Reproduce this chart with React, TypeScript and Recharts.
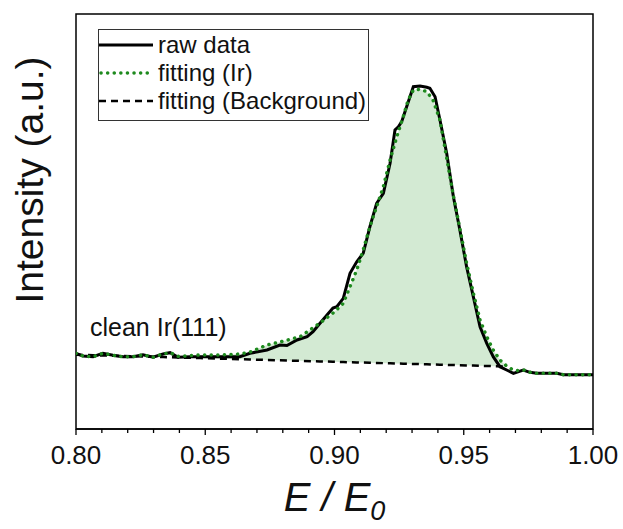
import { ComposedChart, Line, Area, XAxis, YAxis, ReferenceArea, Label } from 'recharts';

// raw spectrum (E/E0, intensity in a.u.)
const rawE = [
  0.8, 0.8027, 0.8066, 0.8104, 0.8143, 0.8182, 0.8221, 0.8259, 0.8298, 0.8337, 0.8364, 0.8395, 0.8441,
  0.8507, 0.8557, 0.8634, 0.8673, 0.8739, 0.8789, 0.8816, 0.8855, 0.8894, 0.8917, 0.8944, 0.8971, 0.8994,
  0.9009, 0.9034, 0.906, 0.9086, 0.9111, 0.9137, 0.9163, 0.9189, 0.9215, 0.9234, 0.9247, 0.926, 0.9279,
  0.9305, 0.9331, 0.9357, 0.9369, 0.9389, 0.9408, 0.9434, 0.946, 0.9485, 0.9511, 0.9537, 0.9563, 0.9589,
  0.9614, 0.964, 0.9666, 0.9692, 0.973, 0.9756, 0.9782, 0.986, 0.9885, 1.0,
];
const rawI = [
  18.24, 17.59, 17.42, 18.24, 17.76, 17.42, 17.42, 17.9, 17.28, 18.07, 18.39, 17.28, 17.42,
  17.42, 17.42, 17.42, 18.24, 19.04, 20.24, 20.12, 21.45, 22.24, 23.45, 25.47, 27.47, 29.16,
  29.47, 31.49, 37.52, 40.31, 42.34, 48.75, 54.39, 56.8, 64.02, 72.05, 72.84, 74.05, 77.66,
  82.48, 82.65, 82.34, 82.1, 80.07, 74.46, 66.43, 55.98, 47.95, 39.11, 31.88, 24.65, 20.65,
  17.42, 15.01, 14.22, 13.42, 14.22, 13.66, 13.42, 13.42, 13.08, 13.08,
];

// fit: Ir peak + background, and the background alone
const fitE = [
  0.8, 0.8027, 0.8066, 0.8104, 0.8143, 0.8182, 0.8221, 0.8259, 0.8298, 0.8337, 0.8364, 0.8395, 0.8441,
  0.848, 0.8557, 0.8634, 0.8673, 0.8739, 0.8789, 0.8867, 0.8944, 0.8994, 0.9021, 0.9034, 0.906, 0.9086,
  0.9111, 0.9137, 0.9163, 0.9189, 0.9215, 0.9241, 0.9266, 0.9285, 0.9305, 0.9331, 0.9357, 0.9381, 0.9408,
  0.9458, 0.9511, 0.9537, 0.9563, 0.9589, 0.9614, 0.964, 0.9666, 0.9691, 0.9718, 0.9737, 0.9756, 0.9782,
  0.986, 0.9885, 1.0,
];
const fitIr = [
  18.24, 17.59, 17.42, 18.24, 17.76, 17.42, 17.42, 17.9, 17.28, 18.07, 18.39, 17.5, 17.7,
  17.83, 17.83, 18.07, 18.55, 20.24, 20.96, 22.24, 25.54, 27.95, 29.47, 30.29, 34.29, 38.31,
  43.13, 48.75, 53.57, 58.39, 64.82, 70.43, 75.25, 79.28, 81.69, 81.86, 81.28, 79.28, 74.46,
  56.87, 40.0, 32.77, 26.27, 22.24, 19.04, 16.63, 15.18, 14.22, 14.05, 14.22, 13.66, 13.42,
  13.42, 13.08, 13.08,
];
const fitBg = [
  17.9, 17.85, 17.79, 17.72, 17.66, 17.59, 17.52, 17.46, 17.39, 17.32, 17.28, 17.23, 17.15,
  17.08, 16.95, 16.82, 16.75, 16.64, 16.55, 16.42, 16.29, 16.2, 16.16, 16.14, 16.09, 16.05,
  16.01, 15.96, 15.92, 15.87, 15.83, 15.78, 15.74, 15.71, 15.67, 15.63, 15.58, 15.54, 15.5,
  15.41, 15.32, 15.28, 15.23, 15.19, 15.15, 15.1, 15.06, null, null, null, null, null,
  null, null, null,
];

const majorTicks = [0.8, 0.85, 0.9, 0.95, 1.0];
const tickLabels = ['0.80', '0.85', '0.90', '0.95', '1.00'];
const minorTicks = [
  0.81, 0.82, 0.83, 0.84, 0.86, 0.87, 0.88, 0.89, 0.91, 0.92, 0.93, 0.94, 0.96, 0.97, 0.98, 0.99,
];

const FONT = '"Liberation Sans", Arial, sans-serif';
const GREEN = '#1e8a1e';

const rawRows = rawE.map((x, i) => ({ x, raw: rawI[i] }));
const fitRows = fitE.map((x, i) => ({ x, fit: fitIr[i], bg: fitBg[i] }));
const bandRows = fitRows
  .filter((r) => r.bg != null && r.x >= 0.848)
  .map((r) => ({ x: r.x, band: [r.bg, r.fit] }));
const allTicks = [...majorTicks, ...minorTicks].sort((a, b) => a - b);

function XTick(props: any) {
  const { x, y, payload } = props;
  const idx = majorTicks.findIndex((t) => Math.abs(t - payload.value) < 1e-6);
  const major = idx >= 0;
  return (
    <g>
      <line x1={x} x2={x} y1={y} y2={y + (major ? 6 : 4)} stroke="#000" strokeWidth={1.3} />
      {major && (
        <text x={x} y={y + 35} textAnchor="middle" fontSize={26} fontFamily={FONT} fill="#111">
          {tickLabels[idx]}
        </text>
      )}
    </g>
  );
}

function XTitle(props: any) {
  const { viewBox } = props;
  const cx = viewBox.x + viewBox.width / 2;
  return (
    <text x={cx} y={viewBox.y + 82} textAnchor="middle" fontSize={40} fontFamily={FONT} fontStyle="italic" fill="#111">
      E / E<tspan fontSize={27} dy={9}>0</tspan>
    </text>
  );
}

function YTitle() {
  return (
    <text x={29} y={180} transform="rotate(-90 29 180)" textAnchor="middle" dominantBaseline="central"
      fontSize={39} fontFamily={FONT} fill="#111">
      Intensity (a.u.)
    </text>
  );
}

export default function App() {
  return (
    <div style={{ position: 'absolute', left: 0, top: 0, width: 623, height: 529, background: '#fff' }}>
      <ComposedChart width={623} height={529} margin={{ top: 14, right: 30, bottom: 0, left: 0 }}>
        <XAxis
          type="number"
          dataKey="x"
          domain={[0.8, 1.0]}
          ticks={allTicks}
          interval={0}
          allowDataOverflow
          height={100}
          tickSize={0}
          tickMargin={0}
          tickLine={false}
          tick={<XTick />}
          axisLine={{ stroke: '#000', strokeWidth: 1.5 }}
        >
          <Label content={<XTitle />} />
        </XAxis>
        <YAxis type="number" domain={[0, 100]} width={76} tick={false} tickLine={false} axisLine={false}>
          <Label content={<YTitle />} />
        </YAxis>
        <Area
          data={bandRows}
          dataKey="band"
          type="linear"
          stroke="none"
          fill="#d3ead3"
          fillOpacity={1}
          isAnimationActive={false}
        />
        <Line
          data={fitRows}
          dataKey="bg"
          type="linear"
          stroke="#000"
          strokeWidth={2.5}
          strokeDasharray="7 5"
          dot={false}
          connectNulls={false}
          isAnimationActive={false}
        />
        <Line
          data={rawRows}
          dataKey="raw"
          type="linear"
          stroke="#000"
          strokeWidth={3}
          dot={false}
          isAnimationActive={false}
        />
        <Line
          data={fitRows}
          dataKey="fit"
          type="linear"
          stroke={GREEN}
          strokeWidth={3.5}
          strokeDasharray="0.1 6.5"
          strokeLinecap="round"
          dot={false}
          isAnimationActive={false}
        />
        <ReferenceArea x1={0.8} x2={1.0} y1={0} y2={100} fill="none" stroke="#000" strokeWidth={1.5} />
      </ComposedChart>
      <svg width={623} height={529} style={{ position: 'absolute', left: 0, top: 0, pointerEvents: 'none' }}>
        <rect x={98.5} y={29.5} width={270} height={91} fill="#fff" stroke="#333" strokeWidth={1} />
        <line x1={99} x2={153} y1={45} y2={45} stroke="#000" strokeWidth={3} />
        <text x={158} y={53} fontSize={24} fontFamily={FONT} fill="#111">raw data</text>
        <line x1={101} x2={148} y1={73} y2={73} stroke={GREEN} strokeWidth={3.5} strokeDasharray="0.1 6.5" strokeLinecap="round" />
        <text x={158} y={81} fontSize={24} fontFamily={FONT} fill="#111">fitting (Ir)</text>
        <line x1={99} x2={153} y1={101} y2={101} stroke="#000" strokeWidth={2.5} strokeDasharray="7 5" />
        <text x={158} y={109} fontSize={24} fontFamily={FONT} fill="#111">fitting (Background)</text>
        <text x={90} y={336} fontSize={25} fontFamily={FONT} fill="#111">clean Ir(111)</text>
      </svg>
    </div>
  );
}
